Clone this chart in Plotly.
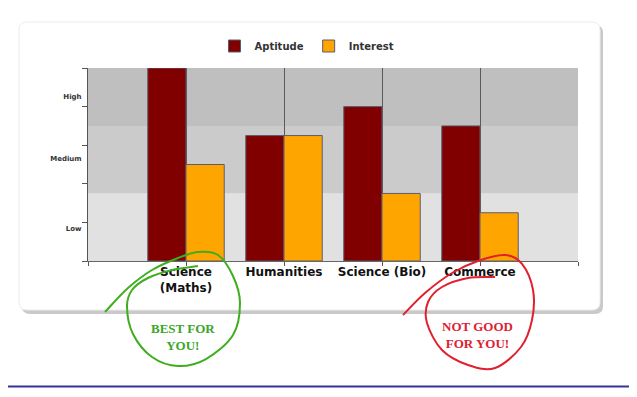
import plotly.graph_objects as go

# ---- data ----
categories = ["Science<br>(Maths)", "Humanities", "Science (Bio)", "Commerce"]
aptitude = [100, 65, 80, 70]
interest = [50, 65, 35, 25]
level_labels = ["Low", "Medium", "High"]
level_label_pos = [17, 53, 85]
band_edges = [0, 35, 70, 100]
band_colors = ["#e2e1e2", "#cccbcc", "#bfbfbf"]
y_ticks = [0, 20, 40, 60, 80, 100]
best_text = "BEST FOR<br>YOU!"
worst_text = "NOT GOOD<br>FOR YOU!"

# ---- layout geometry (page pixels; the page body has an 8px margin) ----
OFF = 8
W, H = 637, 397
FW, FH = W - OFF, H - OFF
PL, PR, PT, PB = 88, 578, 68, 261   # plot area in page pixels
L = PL - OFF
T = PT - OFF
R = FW - (PR - OFF)
B = FH - (PB - OFF)
PW = PR - PL
PH = PB - PT


def px(x, y):
    return ((x - PL) / PW, (PB - y) / PH)


def smooth_path(pts):
    P = [px(*p) for p in pts]
    d = f"M{P[0][0]:.4f},{P[0][1]:.4f}"
    for i in range(len(P) - 1):
        p0 = P[i - 1] if i > 0 else P[i]
        p1, p2 = P[i], P[i + 1]
        p3 = P[i + 2] if i + 2 < len(P) else P[i + 1]
        c1 = (p1[0] + (p2[0] - p0[0]) / 6, p1[1] + (p2[1] - p0[1]) / 6)
        c2 = (p2[0] - (p3[0] - p1[0]) / 6, p2[1] - (p3[1] - p1[1]) / 6)
        d += f" C{c1[0]:.4f},{c1[1]:.4f} {c2[0]:.4f},{c2[1]:.4f} {p2[0]:.4f},{p2[1]:.4f}"
    return d


def rounded_rect(x0, y0, x1, y1, r):
    a = px(x0 + r, y0); b = px(x1 - r, y0)
    c = px(x1, y0 + r); d_ = px(x1, y1 - r)
    e = px(x1 - r, y1); f = px(x0 + r, y1)
    g = px(x0, y1 - r); h = px(x0, y0 + r)
    return (f"M{a[0]},{a[1]} L{b[0]},{b[1]} Q{px(x1,y0)[0]},{px(x1,y0)[1]} {c[0]},{c[1]} "
            f"L{d_[0]},{d_[1]} Q{px(x1,y1)[0]},{px(x1,y1)[1]} {e[0]},{e[1]} "
            f"L{f[0]},{f[1]} Q{px(x0,y1)[0]},{px(x0,y1)[1]} {g[0]},{g[1]} "
            f"L{h[0]},{h[1]} Q{px(x0,y0)[0]},{px(x0,y0)[1]} {a[0]},{a[1]} Z")


xpos = list(range(1, len(categories) + 1))
bw = 0.39

fig = go.Figure()
fig.add_trace(go.Bar(
    x=xpos, y=aptitude, name="Aptitude", width=bw, offset=-bw,
    marker=dict(color="#800000", line=dict(color="#5c5c70", width=1)),
))
fig.add_trace(go.Bar(
    x=xpos, y=interest, name="Interest", width=bw, offset=0,
    marker=dict(color="#FFA500", line=dict(color="#5c5c70", width=1)),
))

shapes = []
# card shadow + card
shapes.append(dict(type="path", xref="paper", yref="paper", layer="below",
                   path=rounded_rect(22, 25, 603, 314, 8),
                   fillcolor="#c9c9c9", line=dict(width=0)))
shapes.append(dict(type="path", xref="paper", yref="paper", layer="below",
                   path=rounded_rect(19, 22, 600, 310, 8),
                   fillcolor="#ffffff", line=dict(color="#ececec", width=1)))
# background bands
for i, c in enumerate(band_colors):
    shapes.append(dict(type="rect", xref="paper", yref="y", layer="below",
                       x0=0, x1=1, y0=band_edges[i], y1=band_edges[i + 1],
                       fillcolor=c, line=dict(width=0)))
# bottom blue rule
shapes.append(dict(type="line", xref="paper", yref="paper",
                   x0=px(0, 386.5)[0], x1=px(W, 386.5)[0],
                   y0=px(0, 386.5)[1], y1=px(0, 386.5)[1],
                   line=dict(color="#33339a", width=2)))
# hand-drawn circles
green_pts = [(105, 312), (128, 288), (152, 270), (178, 258), (198, 252), (218, 255),
             (233, 276), (240, 303), (233, 335), (206, 359), (178, 366), (152, 357),
             (133, 334), (127, 307), (132, 290), (148, 278), (172, 270), (198, 266)]
red_pts = [(403, 315), (425, 293), (452, 273), (478, 261), (505, 255), (522, 264),
           (533, 290), (532, 320), (521, 347), (495, 368), (468, 365), (442, 350),
           (427, 323), (428, 302), (442, 287), (468, 278), (495, 277)]
shapes.append(dict(type="path", xref="paper", yref="paper", layer="above",
                   path=smooth_path(green_pts), line=dict(color="#3fae1e", width=2)))
shapes.append(dict(type="path", xref="paper", yref="paper", layer="above",
                   path=smooth_path(red_pts), line=dict(color="#e0202e", width=2)))

annotations = [
    dict(xref="paper", yref="paper", x=px(183, 337)[0], y=px(183, 337)[1],
         text=f"<b>{best_text}</b>", showarrow=False, xanchor="center", yanchor="middle",
         font=dict(family="Liberation Serif", size=13, color="#3aa62a")),
    dict(xref="paper", yref="paper", x=px(477, 335)[0], y=px(477, 335)[1],
         text=f"<b>{worst_text}</b>", showarrow=False, xanchor="center", yanchor="middle",
         font=dict(family="Liberation Serif", size=13, color="#dd2233")),
]

fig.update_layout(
    width=FW, height=FH,
    margin=dict(l=L, r=R, t=T, b=B, pad=0),
    paper_bgcolor="#ffffff", plot_bgcolor="rgba(0,0,0,0)",
    barmode="overlay",
    shapes=shapes, annotations=annotations,
    showlegend=True,
    legend=dict(orientation="h", x=px(307, 0)[0], xanchor="center",
                y=px(0, 46)[1], yanchor="middle",
                font=dict(family="DejaVu Sans", size=10, color="#333333", weight="bold"),
                bgcolor="rgba(0,0,0,0)"),
    xaxis=dict(range=[0, len(categories) + 1], tickvals=xpos, ticktext=categories,
               showgrid=True, gridcolor="#5a5a5a", gridwidth=1,
               ticks="outside", ticklen=4, tickcolor="#555555",
               showline=True, linecolor="#666666", linewidth=1,
               zeroline=False, fixedrange=True, ticklabelstandoff=-4,
               minor=dict(tickvals=[0, len(categories) + 1], ticks="outside",
                          ticklen=4, tickcolor="#555555", showgrid=False),
               tickfont=dict(family="DejaVu Sans", size=12, color="#111111", weight="bold")),
    yaxis=dict(range=[0, 100], tickvals=level_label_pos, ticktext=level_labels,
               showgrid=False, ticks="", showline=True, linecolor="#555555", linewidth=1,
               zeroline=False, ticklabelstandoff=4,
               minor=dict(tickvals=y_ticks, ticks="outside", ticklen=5,
                          tickcolor="#555555", showgrid=False),
               tickfont=dict(family="DejaVu Sans", size=7, color="#333333", weight="bold")),
)

fig.write_html("out.html")
